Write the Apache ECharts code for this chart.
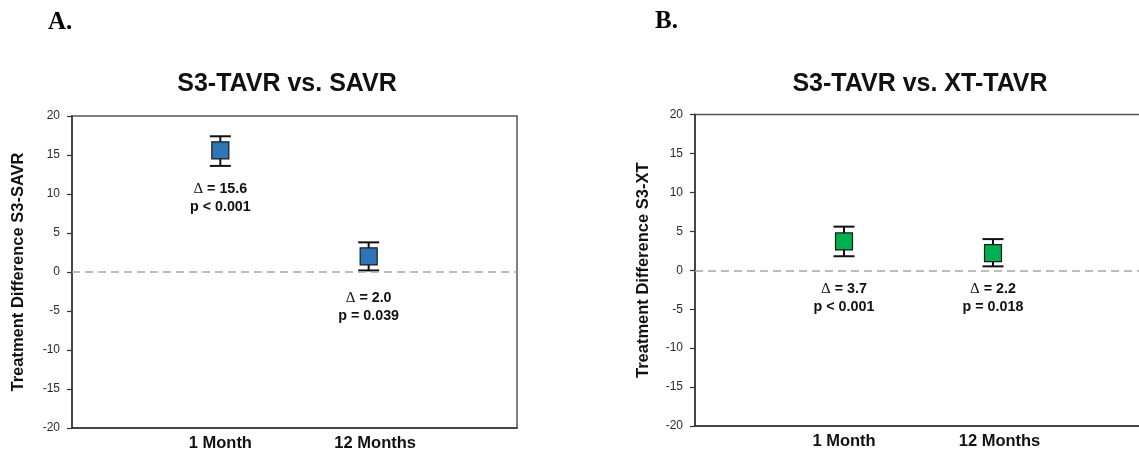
<!DOCTYPE html>
<html>
<head>
<meta charset="utf-8">
<script src="https://cdn.jsdelivr.net/npm/echarts@6/dist/echarts.min.js"></script>
<style>
html,body{margin:0;padding:0;background:#fff;}
#chart{width:1139px;height:453px;}
</style>
</head>
<body>
<div id="chart"></div>
<script>
// ---- data ----
const categories = ['', '1 Month', '12 Months', ''];
const panelTitles = ['S3-TAVR vs. SAVR', 'S3-TAVR vs. XT-TAVR'];
const panelLetters = ['A.', 'B.'];
const yAxisNames = ['Treatment Difference S3-SAVR', 'Treatment Difference S3-XT'];
const yTicks = [-20, -15, -10, -5, 0, 5, 10, 15, 20];

const savrDiff = [15.6, 2.0];
const savrLow = [13.6, 0.2];
const savrHigh = [17.4, 3.8];
const savrP = ['p < 0.001', 'p = 0.039'];

const xtDiff = [3.7, 2.2];
const xtLow = [1.8, 0.5];
const xtHigh = [5.6, 4.0];
const xtP = ['p < 0.001', 'p = 0.018'];

// ---- layout / style ----
const FONT = '"Liberation Sans", Arial, sans-serif';
const grids = [
  {left: 72, top: 116, width: 445, height: 312},
  {left: 695, top: 114.5, width: 447, height: 311.5}
];
const annotAnchor = [[9.5, -4.5], [-3.6, -3.6]];
const colors = ['#2E75B6', '#00B050'];

const panels = [
  {diff: savrDiff, low: savrLow, high: savrHigh, p: savrP},
  {diff: xtDiff, low: xtLow, high: xtHigh, p: xtP}
];

const series = [];
panels.forEach((pn, k) => {
  // zero reference line + error bars
  series.push({
    type: 'custom',
    xAxisIndex: k, yAxisIndex: k,
    z: 3,
    data: pn.diff.map((d, i) => [i + 1, pn.low[i], pn.high[i]]),
    renderItem: function (params, api) {
      const x = api.value(0);
      const lo = api.coord([x, api.value(1)]);
      const hi = api.coord([x, api.value(2)]);
      const hw = 10.5;
      const st = {stroke: '#111', lineWidth: 2};
      return {
        type: 'group',
        children: [
          {type: 'line', shape: {x1: lo[0], y1: lo[1], x2: hi[0], y2: hi[1]}, style: st},
          {type: 'line', shape: {x1: lo[0] - hw, y1: lo[1], x2: lo[0] + hw, y2: lo[1]}, style: st},
          {type: 'line', shape: {x1: hi[0] - hw, y1: hi[1], x2: hi[0] + hw, y2: hi[1]}, style: st}
        ]
      };
    },
    markLine: {
      silent: true,
      symbol: 'none',
      label: {show: false},
      lineStyle: {color: '#A6A6A6', type: [8, 5], width: 1.5, opacity: 1},
      data: [{yAxis: 0}]
    }
  });
  // point estimates
  series.push({
    type: 'scatter',
    xAxisIndex: k, yAxisIndex: k,
    z: 4,
    symbol: 'rect',
    symbolSize: 17,
    itemStyle: {color: colors[k], borderColor: '#1a1a1a', borderWidth: 1.2, opacity: 1},
    data: pn.diff.map((d, i) => [i + 1, d])
  });
  // annotations
  series.push({
    type: 'scatter',
    xAxisIndex: k, yAxisIndex: k,
    z: 5,
    symbolSize: 0,
    silent: true,
    itemStyle: {opacity: 1},
    data: pn.diff.map((d, i) => [i + 1, annotAnchor[k][i]]),
    label: {
      show: true,
      position: 'inside',
      formatter: function (prm) {
        const d = pn.diff[prm.dataIndex].toFixed(1);
        return '{d|\u0394}{t| = ' + d + '}\n{t|' + pn.p[prm.dataIndex] + '}';
      },
      rich: {
        d: {fontFamily: '"Liberation Serif", serif', fontSize: 15, fontWeight: 'normal', color: '#111', lineHeight: 18.4},
        t: {fontFamily: FONT, fontSize: 14.3, fontWeight: 'bold', color: '#111', lineHeight: 18.4}
      }
    }
  });
});

const option = {
  backgroundColor: '#fff',
  animation: false,
  grid: grids.map(g => Object.assign({show: true, borderColor: '#555', borderWidth: 1.5, backgroundColor: 'transparent', outerBoundsMode: 'none', containLabel: false}, g)),
  xAxis: grids.map((g, k) => ({
    type: 'category',
    gridIndex: k,
    data: categories,
    boundaryGap: false,
    axisLine: {show: true, onZero: false, lineStyle: {color: '#333', width: 1.5}},
    axisTick: {show: false},
    splitLine: {show: false},
    axisLabel: {
      margin: 7,
      color: '#111',
      fontFamily: FONT,
      fontSize: 16.5,
      fontWeight: 'bold',
      interval: 0,
      formatter: v => v === '12 Months' ? '{s|' + v + '}' : v,
      rich: {s: {fontFamily: FONT, fontSize: 16.5, fontWeight: 'bold', color: '#111', padding: [0, 0, 0, 13]}}
    }
  })),
  yAxis: grids.map((g, k) => ({
    type: 'value',
    gridIndex: k,
    min: yTicks[0],
    max: yTicks[yTicks.length - 1],
    interval: yTicks[1] - yTicks[0],
    name: yAxisNames[k],
    nameLocation: 'middle',
    nameGap: k === 0 ? 45 : 43,
    nameTextStyle: {fontFamily: FONT, fontSize: 16.5, fontWeight: 'bold', color: '#111'},
    axisLine: {show: true, lineStyle: {color: '#333', width: 1.5}},
    axisTick: {show: true, inside: false, length: 5, lineStyle: {color: '#333', width: 1.2}},
    splitLine: {show: false},
    axisLabel: {margin: 12, color: '#2a2a3a', fontFamily: FONT, fontSize: 12}
  })),
  graphic: [
    {type: 'text', x: 287, y: 84, style: {text: panelTitles[0], fill: '#111', font: 'bold 25px ' + FONT, textAlign: 'center', textVerticalAlign: 'middle'}},
    {type: 'text', x: 920, y: 84, style: {text: panelTitles[1], fill: '#111', font: 'bold 25px ' + FONT, textAlign: 'center', textVerticalAlign: 'middle'}},
    {type: 'text', x: 48, y: 23, style: {text: panelLetters[0], fill: '#000', font: 'bold 25px "Liberation Serif", serif', textAlign: 'left', textVerticalAlign: 'middle'}},
    {type: 'text', x: 655, y: 22, style: {text: panelLetters[1], fill: '#000', font: 'bold 25px "Liberation Serif", serif', textAlign: 'left', textVerticalAlign: 'middle'}}
  ],
  series: series
};

const chart = echarts.init(document.getElementById('chart'), null, {renderer: 'canvas'});
chart.setOption(option);
</script>
</body>
</html>
